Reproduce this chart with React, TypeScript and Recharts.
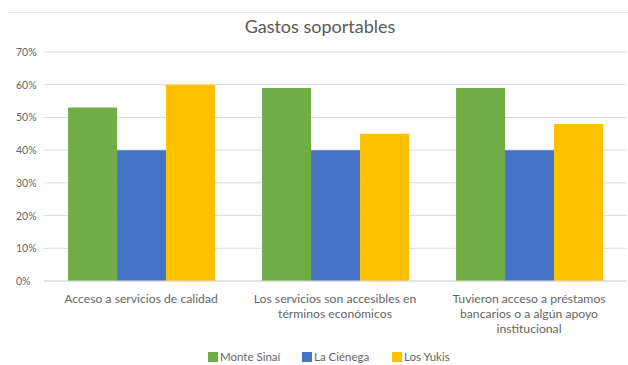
import React from 'react';
import { BarChart, Bar, XAxis, YAxis, CartesianGrid } from 'recharts';

const categories = [
  'Acceso a servicios de calidad',
  'Los servicios son accesibles en\ntérminos económicos',
  'Tuvieron acceso a préstamos\nbancarios o a algún apoyo\ninstitucional',
];
const monteSinai = [0.53, 0.59, 0.59];
const laCienega = [0.4, 0.4, 0.4];
const losYukis = [0.6, 0.45, 0.48];
const yTicks = [0, 0.1, 0.2, 0.3, 0.4, 0.5, 0.6, 0.7];

const series = [
  { key: 'monteSinai', name: 'Monte Sinaí', color: '#70ad47' },
  { key: 'laCienega', name: 'La Ciénega', color: '#4472c4' },
  { key: 'losYukis', name: 'Los Yukis', color: '#ffc000' },
];

const data = categories.map((name, i) => ({
  name,
  monteSinai: monteSinai[i],
  laCienega: laCienega[i],
  losYukis: losYukis[i],
}));

const FONT = 'Lato, "Open Sans", sans-serif';
const TEXT = '#666666';

const CategoryTick = (props: any) => {
  const { x, y, payload } = props;
  const lines = String(payload.value).split('\n');
  return (
    <g transform={`translate(${x},${y})`}>
      {lines.map((line, i) => (
        <text key={i} x={0} y={14 + i * 15} textAnchor="middle" fill={TEXT} fontSize={12.2} fontFamily={FONT}>
          {line}
        </text>
      ))}
    </g>
  );
};

const PercentTick = (props: any) => {
  const { y, payload } = props;
  return (
    <text x={16} y={y + 4} textAnchor="start" fill={TEXT} fontSize={10.5} fontFamily={FONT}>
      {`${Math.round(payload.value * 100)}%`}
    </text>
  );
};

export default function App() {
  return (
    <div style={{ position: 'fixed', left: 0, top: 0, width: 628, height: 365, background: '#fff', fontFamily: FONT }}>
      <div style={{ position: 'absolute', left: 8, right: 0, top: 12, borderTop: '1px solid #e6e6e6' }} />
      <div style={{ position: 'absolute', left: 0, width: 640, top: 15, textAlign: 'center', fontSize: 18, color: '#595959' }}>
        Gastos soportables
      </div>
      <BarChart
        width={628}
        height={365}
        data={data}
        margin={{ top: 52, right: 2, bottom: 0, left: 0 }}
        barCategoryGap="12.4%"
        barGap={0}
      >
        <CartesianGrid vertical={false} stroke="#d9d9d9" />
        <XAxis dataKey="name" axisLine={{ stroke: '#d9d9d9' }} tickLine={false} height={84} interval={0} tick={<CategoryTick />} />
        <YAxis width={44} domain={[0, 0.7]} ticks={yTicks} axisLine={false} tickLine={false} tick={<PercentTick />} />
        {series.map((s) => (
          <Bar key={s.key} dataKey={s.key} name={s.name} fill={s.color} isAnimationActive={false} />
        ))}
      </BarChart>
      {/* legend: each entry gets a fixed slot so the swatches line up */}
      <div style={{ position: 'absolute', top: 350, left: 208, display: 'flex' }}>
        {series.map((s, i) => (
          <div key={s.key} style={{ display: 'flex', alignItems: 'center', width: i === 0 ? 94 : 90, fontSize: 11.5, color: TEXT }}>
            <span style={{ width: 10, height: 10, background: s.color, marginRight: 2, display: 'inline-block' }} />
            {s.name}
          </div>
        ))}
      </div>
    </div>
  );
}
